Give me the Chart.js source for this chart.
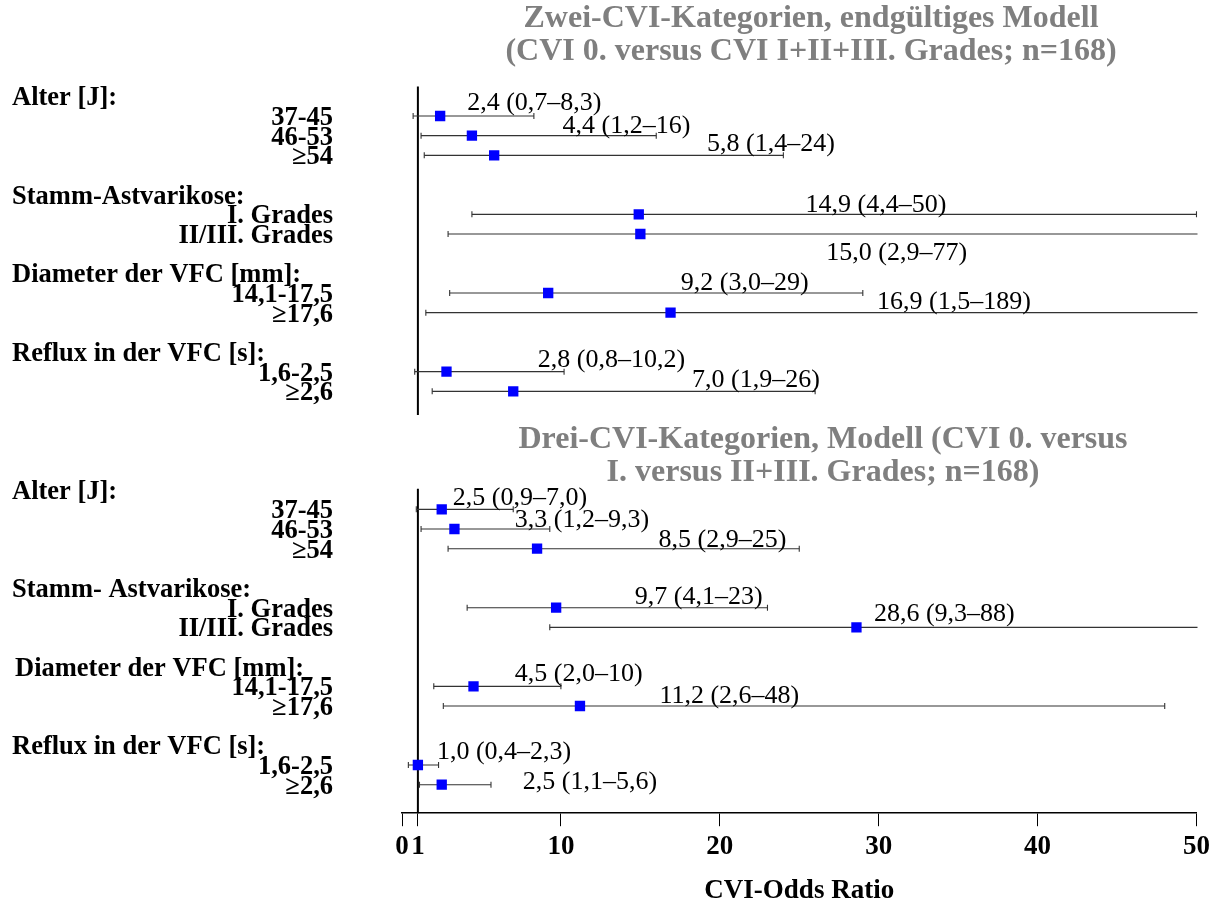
<!DOCTYPE html>
<html lang="de">
<head>
<meta charset="utf-8">
<title>CVI-Odds Ratio</title>
<script src="https://cdn.jsdelivr.net/npm/chart.js@4.4.1/dist/chart.umd.min.js"></script>
<style>
  html, body { margin: 0; padding: 0; background: #fff; }
  #wrap { width: 1215px; height: 907px; }
</style>
</head>
<body>
<div id="wrap"><canvas id="forest" width="1215" height="907"></canvas></div>
<script>
// Merkmale: Gruppenkopf + Ausprägungen (je Block gleich, nur Schreibweise leicht anders)
const zweiGroups = ['Alter [J]:', 'Stamm-Astvarikose:', 'Diameter der VFC [mm]:', 'Reflux in der VFC [s]:'];
const dreiGroups = ['Alter [J]:', 'Stamm- Astvarikose:', 'Diameter der VFC [mm]:', 'Reflux in der VFC [s]:'];
const categories = ['37-45', '46-53', '≥54', 'I. Grades', 'II/III. Grades', '14,1-17,5', '≥17,6', '1,6-2,5', '≥2,6'];

// Zeilen auf der y-Achse; Gruppenkopf jeweils eine Zeile über der ersten Ausprägung
const rowPos = [0, 1, 2, 5, 6, 9, 10, 13, 14];
const groupPos = [-1, 4, 8, 12];
const panelShift = [0, 20];

// Zwei-CVI-Kategorien: OR (95%-KI)
const zweiOR = [2.4, 4.4, 5.8, 14.9, 15.0, 9.2, 16.9, 2.8, 7.0];
const zweiLo = [0.7, 1.2, 1.4, 4.4, 2.9, 3.0, 1.5, 0.8, 1.9];
const zweiHi = [8.3, 16, 24, 50, 77, 29, 189, 10.2, 26];

// Drei-CVI-Kategorien: OR (95%-KI)
const dreiOR = [2.5, 3.3, 8.5, 9.7, 28.6, 4.5, 11.2, 1.0, 2.5];
const dreiLo = [0.9, 1.2, 2.9, 4.1, 9.3, 2.0, 2.6, 0.4, 1.1];
const dreiHi = [7.0, 9.3, 25, 23, 88, 10, 48, 2.3, 5.6];

const xTicks = [0, 1, 10, 20, 30, 40, 50];

// Referenzlinie OR = 1, ein Stück pro Block (y-Bereich)
const refLineY = [[-1.5, 15.2], [18.95, 35.45]];

// Lage der Wertangaben: x in OR-Einheiten, Grundlinie relativ zur Zeile (px)
const zweiLabelX = [4.1, 10.1, 19.2, 25.4, 26.7, 17.55, 29.9, 8.55, 18.25];
const zweiLabelDy = [-6, -3, -4, -2, 26, -3, -4, -5, -4];
const dreiLabelX = [3.2, 7.1, 16.15, 14.65, 29.7, 7.1, 16.2, 2.2, 7.6];
const dreiLabelDy = [-4, -2, -2, -4, -6, -5, -3, -6, 4];

// linker Rand der Gruppenköpfe (px)
const zweiGroupX = [12, 12, 12, 12];
const dreiGroupX = [12, 12, 15, 12];

const SERIF = '"Liberation Serif", "Times New Roman", serif';

const panels = [
    {
        title: ['Zwei-CVI-Kategorien, endgültiges Modell', '(CVI 0. versus CVI I+II+III. Grades; n=168)'],
        titleX: 811, titleY: [27, 60],
        groups: zweiGroups, groupX: zweiGroupX, or: zweiOR, lo: zweiLo, hi: zweiHi,
        labelX: zweiLabelX, labelDy: zweiLabelDy, shift: panelShift[0]
    },
    {
        title: ['Drei-CVI-Kategorien, Modell (CVI 0. versus', 'I. versus II+III. Grades; n=168)'],
        titleX: 823, titleY: [448, 481],
        groups: dreiGroups, groupX: dreiGroupX, or: dreiOR, lo: dreiLo, hi: dreiHi,
        labelX: dreiLabelX, labelDy: dreiLabelDy, shift: panelShift[1]
    }
];

const fmt1 = v => v.toFixed(1).replace('.', ',');
const fmtHi = v => (v < 10 || !Number.isInteger(v)) ? fmt1(v) : String(v);
const ciText = (or, lo, hi) => `${fmt1(or)} (${fmt1(lo)}–${fmtHi(hi)})`;

// Datensätze: Quadrate zuerst, damit sie oben liegen
const datasets = [];
panels.forEach((p, k) => {
    datasets.push({
        label: 'OR ' + (k + 1),
        data: p.or.map((v, i) => ({ x: v, y: rowPos[i] + p.shift })),
        showLine: false,
        pointStyle: 'rect',
        pointRadius: 7.3,
        pointHoverRadius: 7.3,
        pointBackgroundColor: '#0000ff',
        pointBorderWidth: 0
    });
});
panels.forEach((p, k) => {
    const pts = [];
    rowPos.forEach((r, i) => {
        pts.push({ x: p.lo[i], y: r + p.shift }, { x: p.hi[i], y: r + p.shift }, { x: null, y: null });
    });
    datasets.push({
        label: 'KI ' + (k + 1),
        data: pts,
        borderColor: '#333',
        borderWidth: 1.1,
        pointStyle: 'line',
        rotation: 90,
        pointRadius: 3,
        pointHoverRadius: 3,
        pointBorderColor: '#333',
        pointBorderWidth: 1.1,
        spanGaps: false,
        clip: { left: 5, right: 1, top: 5, bottom: 5 }
    });
});
const refPts = [];
refLineY.forEach(([a, b]) => refPts.push({ x: 1, y: a }, { x: 1, y: b }, { x: null, y: null }));
datasets.push({
    label: 'OR = 1',
    data: refPts,
    borderColor: '#000',
    borderWidth: 2,
    pointRadius: 0,
    spanGaps: false,
    clip: 2
});

const forestText = {
    id: 'forestText',
    afterDatasetsDraw(chart) {
        const { ctx, scales: { x, y } } = chart;
        ctx.save();
        ctx.textBaseline = 'alphabetic';
        panels.forEach(p => {
            ctx.font = `bold 32px ${SERIF}`;
            ctx.fillStyle = '#7f7f7f';
            ctx.textAlign = 'center';
            p.title.forEach((line, i) => ctx.fillText(line, p.titleX, p.titleY[i]));

            ctx.fillStyle = '#000';
            ctx.font = `bold 26.5px ${SERIF}`;
            ctx.textAlign = 'left';
            p.groups.forEach((g, i) => ctx.fillText(g, p.groupX[i], y.getPixelForValue(groupPos[i] + p.shift) + 9));
            ctx.textAlign = 'right';
            categories.forEach((c, i) => ctx.fillText(c, 333, y.getPixelForValue(rowPos[i] + p.shift) + 9));

            ctx.font = `26px ${SERIF}`;
            ctx.textAlign = 'left';
            p.or.forEach((v, i) => {
                const tx = x.getPixelForValue(p.labelX[i]);
                const ty = y.getPixelForValue(rowPos[i] + p.shift) + p.labelDy[i];
                ctx.fillText(ciText(v, p.lo[i], p.hi[i]), tx, ty);
            });
        });
        ctx.restore();
    }
};

new Chart(document.getElementById('forest'), {
    type: 'line',
    data: { datasets },
    plugins: [forestText],
    options: {
        responsive: false,
        animation: false,
        devicePixelRatio: 1,
        layout: { padding: { left: 402, right: 18, top: 86.5, bottom: 0 } },
        elements: { line: { tension: 0 } },
        plugins: {
            legend: { display: false },
            tooltip: { enabled: false }
        },
        scales: {
            x: {
                type: 'linear',
                position: 'bottom',
                min: 0,
                max: 50,
                afterBuildTicks: scale => { scale.ticks = xTicks.map(v => ({ value: v })); },
                ticks: {
                    autoSkip: false,
                    maxRotation: 0,
                    padding: 5,
                    color: '#000',
                    font: { family: SERIF, size: 27, weight: 'bold' }
                },
                grid: { drawOnChartArea: false, drawTicks: true, tickLength: 13, color: '#000', lineWidth: 1 },
                border: { display: true, color: '#000', width: 1.5 },
                title: {
                    display: true,
                    text: 'CVI-Odds Ratio',
                    color: '#000',
                    font: { family: SERIF, size: 27, weight: 'bold' },
                    padding: { top: 6, bottom: 0 }
                }
            },
            y: {
                type: 'linear',
                display: false,
                reverse: true,
                min: -1.5,
                max: 35.45
            }
        }
    }
});
</script>
</body>
</html>
